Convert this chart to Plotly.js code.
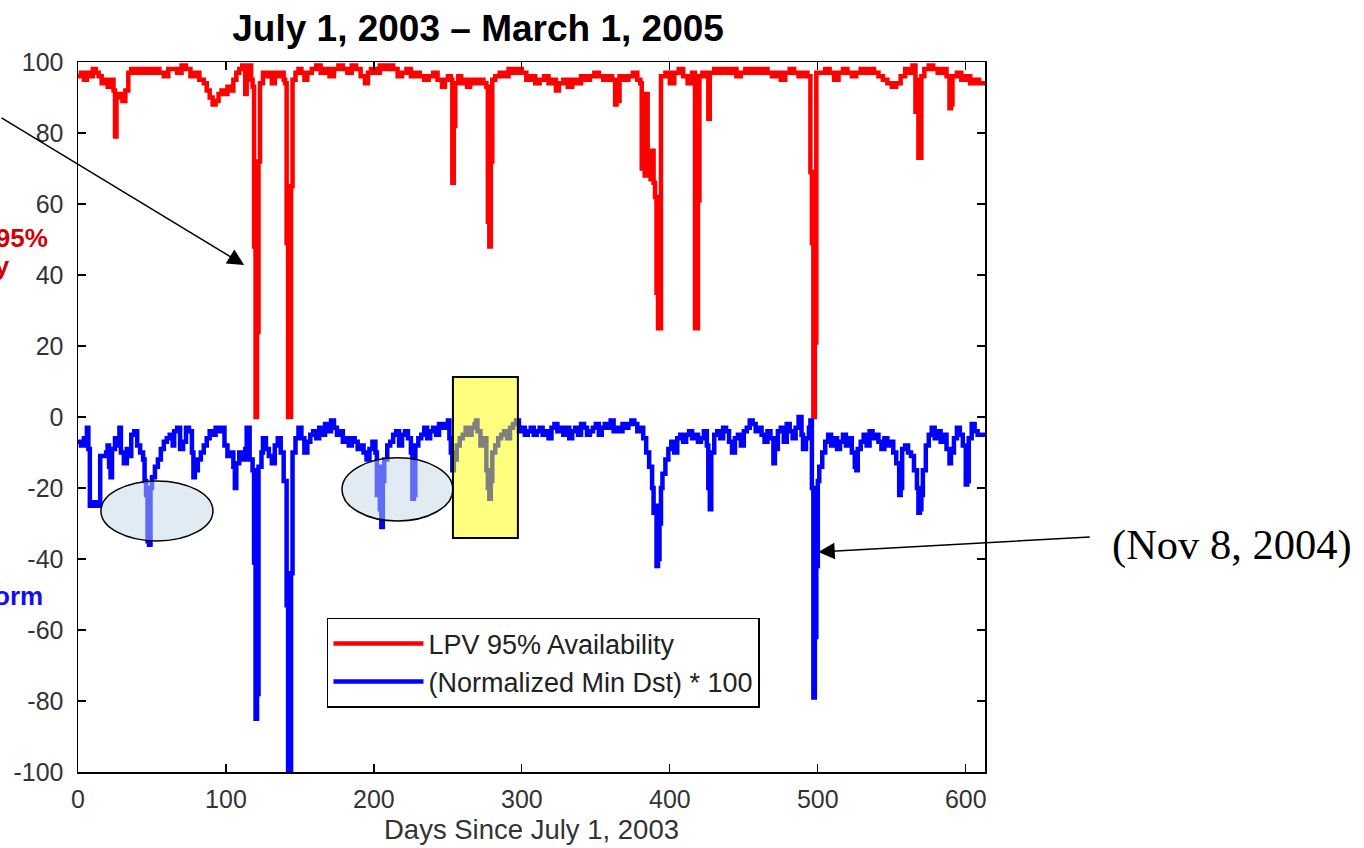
<!DOCTYPE html>
<html>
<head>
<meta charset="utf-8">
<script src="https://cdn.plot.ly/plotly-3.0.1.min.js"></script>
<style>
html,body{margin:0;padding:0;background:#fff;overflow:hidden;}
#chart{width:1364px;height:848px;}
</style>
</head>
<body>
<div id="chart"></div>
<script>
// LPV 95% availability (red), sampled days
const dayR = [0,2,4,6,8,10,12,14,16,18,20,22,24,25,26,28,30,32,34,36,38,40,43,46,49,52,55,58,61,64,67,70,73,76,79,82,85,87,89,91,93,95,97,99,101,103,105,107,109,111,113,114,116,117,118,119,120,121,122,123,125,127,129,131,133,135,137,139,140,141,142,143,144,145,147,149,151,153,155,158,161,164,167,170,173,176,179,182,185,188,191,194,196,198,201,204,207,210,213,216,219,222,225,228,231,234,237,240,243,246,248,250,252,253,254,255,257,259,261,263,265,268,271,274,276,277,278,279,280,282,285,288,291,294,297,300,303,306,309,312,315,318,321,323,325,328,331,334,337,340,343,346,349,352,355,358,361,363,364,366,369,372,375,378,380,381,382,383,384,385,386,387,388,389,390,391,392,393,394,397,400,403,406,409,412,415,417,418,419,420,422,424,426,427,430,433,436,439,442,445,448,451,454,457,460,463,466,469,472,475,478,481,484,487,490,493,494,495,496,497,498,499,502,505,508,511,514,517,520,523,526,529,532,535,538,541,544,547,550,553,556,559,562,564,566,567,568,569,570,572,575,578,581,584,587,589,590,591,594,597,600,603,606,609,613];
const lpvR = [96,97,95,97,96,98,97,96,94,95,93,95,92,79,90,91,89,92,97,98,97,98,97,98,97,98,97,96,98,98,97,99,98,96,97,95,94,92,90,88,89,91,92,91,93,92,95,97,98,99,91,98,99,95,93,48,0,24,72,94,97,96,97,94,97,96,97,95,94,49,0,0,65,95,97,98,97,95,97,98,99,97,98,96,98,99,98,97,99,98,96,94,97,98,97,99,98,99,98,96,97,98,96,97,96,95,96,97,95,93,95,96,95,66,82,94,96,94,95,93,95,94,95,94,93,55,48,72,95,96,97,96,98,97,98,97,95,96,94,95,96,94,95,92,94,95,93,95,94,96,95,96,97,96,95,96,95,88,89,96,95,96,97,95,94,70,90,68,91,68,70,67,75,66,62,35,25,25,96,97,94,97,98,96,94,97,25,25,61,96,97,96,84,97,98,97,98,97,98,96,97,98,97,98,97,98,97,96,97,95,97,98,97,96,97,96,96,69,49,0,21,97,97,98,97,95,97,98,97,96,97,98,97,98,97,96,95,94,93,94,96,98,97,99,86,95,73,73,96,98,99,98,97,98,96,87,88,96,97,95,96,94,95,94,94];

// (Normalized Min Dst) * 100 (blue), sampled days
const dayB = [0,2,4,6,7,8,10,12,15,17,19,20,21,22,23,25,27,28,29,31,33,35,36,38,40,42,44,45,46,47,48,49,50,52,54,56,58,60,62,64,65,67,69,71,73,75,77,78,79,81,83,85,87,89,91,93,95,97,99,101,103,105,106,107,109,111,113,114,116,118,119,120,121,122,124,125,127,129,131,133,135,137,139,141,142,143,144,145,147,149,151,153,155,157,159,161,163,165,167,169,171,173,175,177,179,181,183,185,187,189,191,193,195,197,199,201,202,203,204,205,206,207,209,211,213,215,217,219,221,223,225,226,227,228,230,232,234,236,238,240,242,244,246,248,250,251,252,253,254,256,258,260,262,264,266,268,269,270,272,274,276,277,278,279,280,282,284,286,288,290,292,294,296,298,300,302,304,306,308,310,312,314,316,318,320,322,324,326,328,330,332,334,336,338,340,342,344,346,348,350,352,354,356,358,360,362,364,366,368,370,372,374,376,378,380,382,384,386,388,389,390,391,392,393,394,395,397,399,401,403,405,407,409,411,413,415,417,419,421,423,425,426,427,428,430,432,434,436,438,440,442,444,446,448,450,452,454,456,458,460,462,464,466,468,470,471,473,475,477,479,481,483,485,487,489,490,492,494,495,496,497,498,499,500,501,503,505,507,509,511,513,515,517,519,521,523,525,526,527,529,531,533,535,537,539,541,543,545,547,549,551,553,555,556,557,559,561,563,565,567,568,569,570,571,573,575,577,579,581,583,585,587,589,590,592,594,596,598,600,601,602,604,606,608,613];
const dstB = [-7,-8,-6,-3,-9,-25,-24,-25,-11,-11,-10,-8,-14,-17,-9,-6,-8,-3,-10,-13,-9,-11,-5,-4,-8,-10,-12,-18,-22,-35,-36,-20,-17,-14,-12,-9,-7,-6,-5,-8,-4,-3,-9,-7,-3,-4,-10,-17,-15,-12,-10,-8,-6,-4,-5,-3,-4,-3,-8,-11,-10,-14,-20,-13,-10,-12,-9,-3,-12,-15,-41,-85,-78,-14,-10,-6,-9,-11,-13,-8,-6,-10,-18,-53,-100,-100,-44,-10,-6,-3,-6,-10,-7,-5,-4,-6,-3,-5,-2,-4,-1,-3,-5,-4,-7,-6,-8,-6,-7,-9,-8,-10,-12,-9,-7,-10,-22,-14,-26,-31,-18,-12,-8,-7,-5,-4,-8,-5,-4,-6,-10,-23,-22,-8,-6,-5,-3,-6,-4,-3,-5,-2,-3,-2,-1,-6,-10,-15,-12,-8,-6,-5,-3,-5,-3,-2,-1,-4,-8,-6,-15,-20,-23,-18,-10,-8,-6,-5,-4,-6,-3,-2,-1,-4,-3,-5,-4,-3,-5,-4,-3,-5,-4,-6,-3,-2,-4,-3,-5,-3,-6,-4,-3,-5,-2,-3,-5,-4,-3,-2,-5,-3,-2,-3,-1,-4,-3,-4,-2,-3,-2,-1,-2,-4,-3,-6,-10,-14,-20,-27,-25,-42,-40,-30,-20,-16,-12,-9,-7,-10,-6,-5,-7,-5,-4,-6,-5,-7,-6,-4,-8,-20,-26,-10,-5,-4,-6,-3,-4,-7,-10,-6,-5,-8,-4,-3,-1,-2,-4,-3,-5,-7,-4,-6,-13,-9,-4,-3,-7,-2,-4,-6,-3,0,-5,-9,-6,-3,-1,-20,-79,-62,-42,-18,-14,-10,-7,-5,-8,-6,-9,-7,-5,-8,-6,-10,-14,-15,-9,-7,-5,-8,-4,-6,-5,-7,-9,-6,-8,-7,-10,-13,-22,-20,-9,-8,-10,-11,-15,-20,-27,-26,-22,-15,-8,-5,-3,-6,-4,-7,-5,-9,-13,-10,-6,-3,-5,-8,-19,-18,-6,-2,-4,-5,-5];

const seriesNames = ['LPV 95% Availability', '(Normalized Min Dst) * 100'];
const xTicks = [0,100,200,300,400,500,600];
const yTicks = [-100,-80,-60,-40,-20,0,20,40,60,80,100];

const traces = [
  {x: dayR, y: lpvR, name: seriesNames[0], type: 'scatter', mode: 'lines',
   line: {color: '#ff0000', width: 4.5, shape: 'hv'}, legendgroup: 'a'},
  {x: dayB, y: dstB, name: seriesNames[1], type: 'scatter', mode: 'lines',
   line: {color: '#0000ff', width: 4.5, shape: 'hv'}, legendgroup: 'b'}
];

const axisCommon = {
  showline: true, linecolor: '#000', linewidth: 1.5, mirror: 'ticks',
  ticks: 'inside', ticklen: 8, tickwidth: 1.2, tickcolor: '#000',
  showgrid: false, zeroline: false,
  tickfont: {family: 'Liberation Sans, Arial, sans-serif', size: 25, color: '#333'}
};

const layout = {
  width: 1364, height: 848,
  margin: {l: 78, r: 379, t: 62, b: 76},
  paper_bgcolor: '#fff', plot_bgcolor: '#fff',
  title: {text: '<b>July 1, 2003 \u2013 March 1, 2005</b>',
          font: {family: 'Liberation Sans, Arial, sans-serif', size: 37, color: '#000'},
          x: 0.4411, xref: 'paper', xanchor: 'center', y: 0.967, yanchor: 'middle'},
  xaxis: Object.assign({}, axisCommon, {
    range: [0, 613], tickvals: xTicks, ticktext: xTicks.map(String),
    ticklabelstandoff: 4,
    title: {text: 'Days Since July 1, 2003', standoff: 8,
            font: {family: 'Liberation Sans, Arial, sans-serif', size: 27.5, color: '#333'}}
  }),
  yaxis: Object.assign({}, axisCommon, {
    range: [-100, 100], tickvals: yTicks, ticktext: yTicks.map(String),
    ticklabelstandoff: 8
  }),
  showlegend: true,
  legend: {x: 0.2745, y: 0.217, xanchor: 'left', yanchor: 'top',
           bgcolor: '#fff', bordercolor: '#000', borderwidth: 1.5,
           font: {family: 'Liberation Sans, Arial, sans-serif', size: 27, color: '#222'},
           itemwidth: 90, tracegroupgap: 8, traceorder: 'normal'},
  shapes: [
    {type: 'circle', xref: 'x', yref: 'y', x0: 15.5, x1: 91.2, y0: -34.9, y1: -18.0,
     fillcolor: 'rgba(195,215,232,0.5)', line: {color: '#000', width: 1.5}, layer: 'above'},
    {type: 'circle', xref: 'x', yref: 'y', x0: 178.4, x1: 253.4, y0: -29.3, y1: -11.5,
     fillcolor: 'rgba(195,215,232,0.5)', line: {color: '#000', width: 1.5}, layer: 'above'},
    {type: 'rect', xref: 'x', yref: 'y', x0: 253.4, x1: 297.3, y0: -34.1, y1: 11.3,
     fillcolor: 'rgba(255,255,0,0.5)', line: {color: '#000', width: 2}, layer: 'above'}
  ],
  annotations: [
    {xref: 'x', yref: 'y', x: 112.3, y: 42.8, axref: 'pixel', ayref: 'pixel',
     ax: -245, ay: -148, text: '', showarrow: true, arrowhead: 2, arrowsize: 2.2,
     arrowwidth: 1.5, arrowcolor: '#000'},
    {xref: 'x', yref: 'y', x: 500.3, y: -38, axref: 'pixel', ayref: 'pixel',
     ax: 273, ay: -15, text: '', showarrow: true, arrowhead: 2, arrowsize: 2.2,
     arrowwidth: 1.5, arrowcolor: '#000'},
    {xref: 'paper', yref: 'paper', x: 1.138, y: 0.32, xanchor: 'left', yanchor: 'middle',
     text: '(Nov 8, 2004)', showarrow: false,
     font: {family: 'Liberation Serif, Times New Roman, serif', size: 42.5, color: '#000'}},
    {xref: 'paper', yref: 'paper', x: -0.0309, y: 0.752, xanchor: 'right', yanchor: 'middle',
     text: '<b>LPV 95%</b>', showarrow: false,
     font: {family: 'Liberation Sans, Arial, sans-serif', size: 26, color: '#d40000'}},
    {xref: 'paper', yref: 'paper', x: -0.0728, y: 0.7127, xanchor: 'right', yanchor: 'middle',
     text: '<b>Availability</b>', showarrow: false,
     font: {family: 'Liberation Sans, Arial, sans-serif', size: 26, color: '#d40000'}},
    {xref: 'paper', yref: 'paper', x: -0.0364, y: 0.248, xanchor: 'right', yanchor: 'middle',
     text: '<b>Storm</b>', showarrow: false,
     font: {family: 'Liberation Sans, Arial, sans-serif', size: 26, color: '#1010ee'}}
  ]
};

Plotly.newPlot('chart', traces, layout, {displayModeBar: false, staticPlot: true});
</script>
</body>
</html>
